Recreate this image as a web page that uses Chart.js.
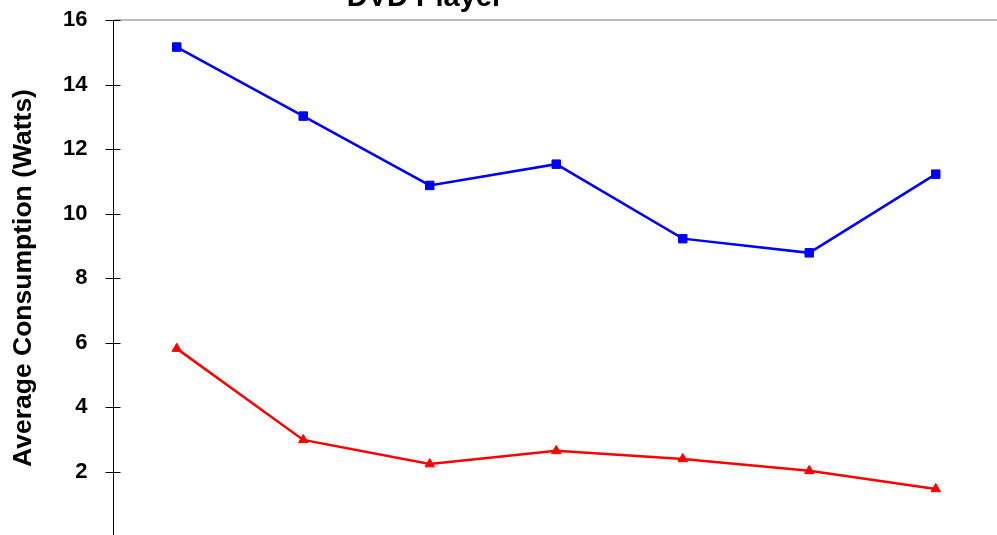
<!DOCTYPE html>
<html>
<head>
<meta charset="utf-8">
<script src="https://cdn.jsdelivr.net/npm/chart.js@4.4.0/dist/chart.umd.min.js"></script>
<style>
  html, body { margin: 0; padding: 0; background: #fff; overflow: hidden; }
  #chart_box { position: absolute; left: 0; top: 0; width: 999px; height: 560px; }
</style>
</head>
<body>
<div id="chart_box"><canvas id="dvd_chart"></canvas></div>
<script>
"use strict";

// Daten (x-Achse im Bild abgeschnitten)
const categories = ["1", "2", "3", "4", "5", "6", "7"];
const active_watts = [15.16, 13.02, 10.87, 11.53, 9.22, 8.78, 11.22];
const standby_watts = [5.81, 2.98, 2.23, 2.64, 2.39, 2.02, 1.46];
const y_ticks = [0, 2, 4, 6, 8, 10, 12, 14, 16];

const chart_title = "DVD Player";
const y_title = "Average Consumption (Watts)";

// Titel oben, halb abgeschnitten wie im Original
const title_plugin = {
  id: "title_plugin",
  afterDraw(chart) {
    const ctx = chart.ctx;
    ctx.save();
    ctx.font = "bold 29px 'Liberation Sans', Arial, sans-serif";
    ctx.fillStyle = "#000";
    ctx.textAlign = "center";
    ctx.textBaseline = "alphabetic";
    ctx.fillText(chart_title, 425, 6);
    ctx.restore();
  },
};

// Striche an der y-Achse, aussen 8px und innen 7px
const axis_ticks = {
  id: "axis_ticks",
  afterDraw(chart) {
    const scale = chart.scales.y;
    const ctx = chart.ctx;
    const left = chart.chartArea.left;
    ctx.save();
    ctx.strokeStyle = "#000";
    ctx.lineWidth = 1;
    y_ticks.forEach((v) => {
      const y = Math.round(scale.getPixelForValue(v)) + 0.5;
      ctx.beginPath();
      ctx.moveTo(left - 8, y);
      ctx.lineTo(left + 7, y);
      ctx.stroke();
    });
    ctx.restore();
  },
};

const config = {
  type: "line",
  data: {
    labels: categories,
    datasets: [
      {
        label: "Active",
        data: active_watts,
        borderColor: "#0000ff",
        backgroundColor: "#0000ff",
        borderWidth: 2.5,
        pointStyle: "rect",
        pointRadius: 6,
        pointBorderWidth: 1,
      },
      {
        label: "Standby",
        data: standby_watts,
        borderColor: "#ff0000",
        backgroundColor: "#ff0000",
        borderWidth: 2.5,
        pointStyle: "triangle",
        pointRadius: 5.5,
        pointBorderWidth: 1,
      },
    ],
  },
  options: {
    responsive: true,
    maintainAspectRatio: false,
    animation: false,
    layout: { autoPadding: false, padding: { top: 20, bottom: 24, left: 0, right: 0 } },
    plugins: {
      legend: { display: false },
      title: { display: false },
      tooltip: { enabled: false },
    },
    scales: {
      x: {
        display: false,
        offset: true,
        grid: { display: false },
      },
      y: {
        min: 0,
        max: 16,
        afterFit(scale) {
          scale.width = 113.5;
        },
        afterBuildTicks(scale) {
          scale.ticks = y_ticks.map((v) => ({ value: v }));
        },
        border: { display: true, color: "#000", width: 1 },
        grid: {
          drawOnChartArea: true,
          drawTicks: true,
          tickLength: 26,
          tickColor: "rgba(0,0,0,0)",
          tickWidth: 1,
          color: (ctx) => (ctx.tick && ctx.tick.value === 16 ? "#bdbdbd" : "rgba(0,0,0,0)"),
          lineWidth: (ctx) => (ctx.tick && ctx.tick.value === 16 ? 2 : 1),
        },
        ticks: {
          color: "#000",
          padding: 0,
          font: { family: "'Liberation Sans', Arial, sans-serif", size: 22, weight: "bold" },
          callback: (value) => (value === 0 ? "" : value),
        },
        title: {
          display: true,
          text: y_title,
          color: "#000",
          padding: { top: 8, bottom: 0 },
          font: { family: "'Liberation Sans', Arial, sans-serif", size: 26.5, weight: "bold" },
        },
      },
    },
  },
  plugins: [title_plugin, axis_ticks],
};

new Chart(document.getElementById("dvd_chart"), config);
</script>
</body>
</html>
